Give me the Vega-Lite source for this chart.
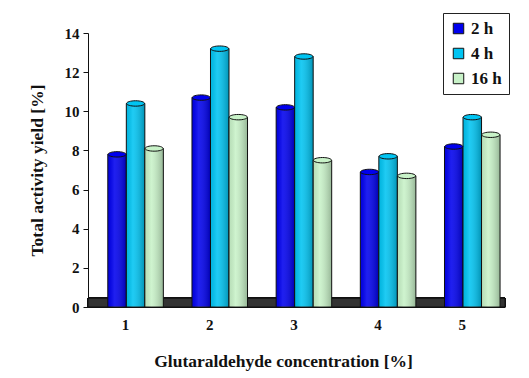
{
  "$schema": "https://vega.github.io/schema/vega-lite/v6.json",
  "autosize": "none",
  "width": 417,
  "height": 274,
  "padding": {"left": 88, "top": 33, "right": 24, "bottom": 71},
  "background": "white",
  "config": {
    "view": {"stroke": null},
    "font": "'Liberation Serif', 'Times New Roman', serif",
    "axis": {"labelFont": "'Liberation Serif', 'Times New Roman', serif", "titleFont": "'Liberation Serif', 'Times New Roman', serif", "labelFontWeight": "bold", "titleFontWeight": "bold", "labelColor": "#111", "titleColor": "#111", "domainColor": "#111", "tickColor": "#111"},
    "legend": {"labelFont": "'Liberation Serif', 'Times New Roman', serif"}
  },
  "data": {
    "values": [
      {"conc": "1", "time": "2 h", "yield": 7.8},
      {"conc": "1", "time": "4 h", "yield": 10.4},
      {"conc": "1", "time": "16 h", "yield": 8.1},
      {"conc": "2", "time": "2 h", "yield": 10.7},
      {"conc": "2", "time": "4 h", "yield": 13.2},
      {"conc": "2", "time": "16 h", "yield": 9.7},
      {"conc": "3", "time": "2 h", "yield": 10.2},
      {"conc": "3", "time": "4 h", "yield": 12.8},
      {"conc": "3", "time": "16 h", "yield": 7.5},
      {"conc": "4", "time": "2 h", "yield": 6.9},
      {"conc": "4", "time": "4 h", "yield": 7.7},
      {"conc": "4", "time": "16 h", "yield": 6.7},
      {"conc": "5", "time": "2 h", "yield": 8.2},
      {"conc": "5", "time": "4 h", "yield": 9.7},
      {"conc": "5", "time": "16 h", "yield": 8.8}
    ]
  },
  "layer": [
    {
      "mark": {"type": "rect", "color": "#333333", "stroke": "#111", "strokeWidth": 1},
      "encoding": {"y": {"datum": 0, "type": "quantitative", "scale": {"domain": [0, 14]},
          "axis": {"title": "Total activity yield [%]", "values": [0, 2, 4, 6, 8, 10, 12, 14], "labelFontSize": 15, "titleFontSize": 17.5, "grid": false, "tickSize": 5, "labelPadding": 4, "titlePadding": 18}}, "y2": {"datum": 0.45}}
    },
    {
      "encoding": {
        "x": {"field": "conc", "type": "nominal", "scale": {"paddingInner": 0.34, "paddingOuter": 0.147, "align": 0.8},
          "axis": {"title": "Glutaraldehyde concentration [%]", "labelAngle": 0, "labelFontSize": 15, "labelOffset": -10, "titleFontSize": 17.5, "titleX": 195, "ticks": false, "labelPadding": 10, "titlePadding": 20, "domain": true}},
        "xOffset": {"field": "time", "type": "nominal", "sort": ["2 h", "4 h", "16 h"]},
        "y": {"field": "yield", "type": "quantitative", "scale": {"domain": [0, 14]},
          "axis": {"title": "Total activity yield [%]", "values": [0, 2, 4, 6, 8, 10, 12, 14], "labelFontSize": 15, "titleFontSize": 17.5, "grid": false, "tickSize": 5, "labelPadding": 4, "titlePadding": 18}}
      },
      "layer": [
        {
          "mark": {"type": "bar", "stroke": "#111", "strokeWidth": 1},
          "encoding": {
            "color": {"field": "time", "type": "nominal", "sort": ["2 h", "4 h", "16 h"],
              "scale": {"domain": ["2 h", "4 h", "16 h"], "range": ["#0000EE", "#00C4F2", "#C8F2C8"]},
              "legend": {"title": null, "orient": "none", "legendX": 355, "legendY": -20, "strokeColor": "#222", "padding": 7, "symbolType": "square", "symbolSize": 110, "symbolStrokeColor": "#111", "symbolStrokeWidth": 1, "labelFontWeight": "bold", "labelFontSize": 17, "rowPadding": 7, "labelColor": "#111"}}
          }
        },
        {
          "mark": {"type": "bar", "fill": {"gradient": "linear", "x1": 0, "x2": 1, "y1": 0, "y2": 0, "stops": [{"offset": 0, "color": "rgba(0,0,0,0.08)"}, {"offset": 0.35, "color": "rgba(255,255,255,0.12)"}, {"offset": 1, "color": "rgba(0,0,0,0.25)"}]}}
        },
        {
          "mark": {"type": "point", "filled": true, "shape": "M-1,0 A1,0.3 0 1,0 1,0 A1,0.3 0 1,0 -1,0 Z", "size": 324, "stroke": "#111", "strokeWidth": 1, "opacity": 1},
          "encoding": {
            "color": {"field": "time", "type": "nominal", "scale": {"domain": ["2 h", "4 h", "16 h"], "range": ["#0000EE", "#00C4F2", "#C8F2C8"]}, "legend": null}
          }
        }
      ]
    }
  ]
}
